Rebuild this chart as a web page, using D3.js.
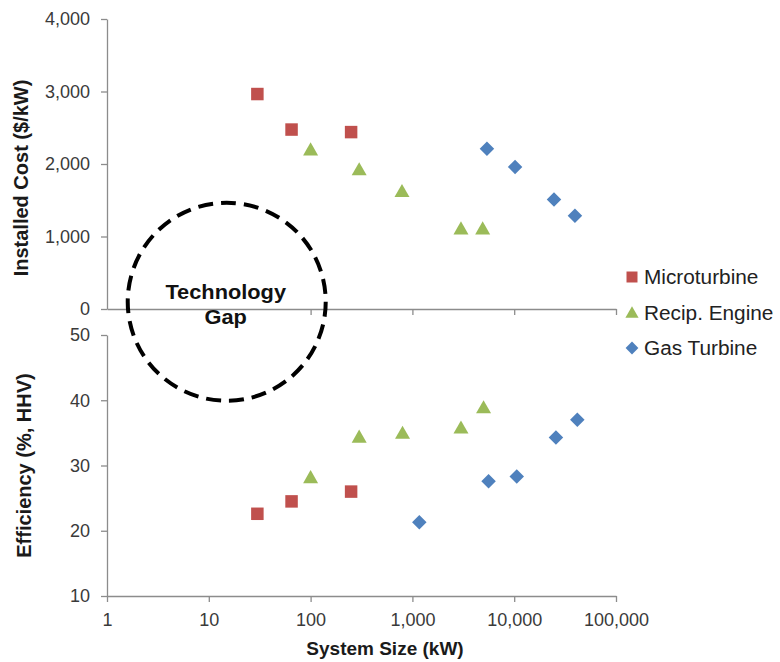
<!DOCTYPE html>
<html>
<head>
<meta charset="utf-8">
<script src="https://cdn.jsdelivr.net/npm/d3@7"></script>
<style>
  html, body { margin: 0; padding: 0; background: #fff; }
  svg { display: block; font-family: "Liberation Sans", Arial, sans-serif; }
</style>
</head>
<body>
<svg id="chart" width="780" height="662"></svg>
<script>
// ---- Data ----
const seriesNames = ["Microturbine", "Recip. Engine", "Gas Turbine"];

// Installed cost panel
const microCostSize = [30, 65, 250];
const microCost     = [2965, 2475, 2440];
const recipCostSize = [100, 300, 790, 3000, 4900];
const recipCost     = [2200, 1925, 1625, 1110, 1110];
const gasCostSize   = [5400, 10200, 24600, 39500];
const gasCost       = [2210, 1960, 1510, 1285];

// Efficiency panel
const microEffSize = [30, 65, 250];
const microEff     = [22.6, 24.5, 26.0];
const recipEffSize = [100, 300, 800, 3000, 5000];
const recipEff     = [28.2, 34.4, 35.0, 35.8, 38.9];
const gasEffSize   = [1170, 5600, 10600, 25700, 41700];
const gasEff       = [21.3, 27.6, 28.3, 34.3, 37.0];

// Axis ticks
const xTicks = [1, 10, 100, 1000, 10000, 100000];
const xTicksTop = [100, 1000, 10000, 100000];
const costTicks = [0, 1000, 2000, 3000, 4000];
const effTicks = [10, 20, 30, 40, 50];

// Technology gap annotation (centre in data units)
const gapCenterSize = 15;
const gapCenterCost = 100;

// ---- Setup ----
const colors = { "Microturbine": "#C0504D", "Recip. Engine": "#9BBB59", "Gas Turbine": "#4F81BD" };
const shapes = { "Microturbine": "square", "Recip. Engine": "triangle", "Gas Turbine": "diamond" };
const axisColor = "#8c8c8c";
const tickTextColor = "#3a3a3a";

const svg = d3.select("#chart");

const x = d3.scaleLog().domain([1, 100000]).range([107, 616]);
const yCost = d3.scaleLinear().domain([0, 4000]).range([309, 19]);
const yEff = d3.scaleLinear().domain([10, 50]).range([596, 335]);

const fmt = d3.format(",");

function styleAxis(g) {
  g.select(".domain").attr("stroke", axisColor).attr("stroke-width", 1.3);
  g.selectAll(".tick line").attr("stroke", axisColor).attr("stroke-width", 1.3);
  g.selectAll(".tick text").attr("fill", tickTextColor)
    .style("font-size", "18px").style("font-family", "'Liberation Sans', Arial, sans-serif");
}

// Cost y axis
svg.append("g").attr("transform", `translate(${x.range()[0]},0)`)
  .call(d3.axisLeft(yCost).tickValues(costTicks).tickFormat(fmt).tickSize(6).tickSizeOuter(0).tickPadding(11))
  .call(styleAxis);

// Cost x axis (at 0)
svg.append("g").attr("transform", `translate(0,${yCost(0)})`)
  .call(d3.axisBottom(x).tickValues(xTicksTop).tickFormat("").tickSize(6).tickSizeOuter(0))
  .call(styleAxis);

// Efficiency y axis
svg.append("g").attr("transform", `translate(${x.range()[0]},0)`)
  .call(d3.axisLeft(yEff).tickValues(effTicks).tickFormat(fmt).tickSize(6).tickSizeOuter(0).tickPadding(11))
  .call(styleAxis);

// Efficiency x axis
svg.append("g").attr("transform", `translate(0,${yEff(10)})`)
  .call(d3.axisBottom(x).tickValues(xTicks).tickFormat(fmt).tickSize(6).tickSizeOuter(0).tickPadding(11))
  .call(styleAxis);

// Axis titles
svg.append("text")
  .attr("transform", `translate(28,${(yCost(0) + yCost(4000)) / 2 + 14}) rotate(-90)`)
  .attr("text-anchor", "middle").attr("font-weight", "bold").attr("font-size", 20).attr("fill", "#1a1a1a")
  .text("Installed Cost ($/kW)");
svg.append("text")
  .attr("transform", `translate(31,${(yEff(10) + yEff(50)) / 2}) rotate(-90)`)
  .attr("text-anchor", "middle").attr("font-weight", "bold").attr("font-size", 20).attr("fill", "#1a1a1a")
  .text("Efficiency (%, HHV)");
svg.append("text")
  .attr("x", 385).attr("y", 655)
  .attr("text-anchor", "middle").attr("font-weight", "bold").attr("font-size", 19).attr("fill", "#1a1a1a")
  .text("System Size (kW)");

// Markers
function symbolPath(shape, s) {
  if (shape === "square") {
    const h = s / 2;
    return `M${-h},${-h}H${h}V${h}H${-h}Z`;
  }
  if (shape === "triangle") {
    const w = s * 1.2 / 2, h = s * 1.05;
    return `M0,${-h * 0.55}L${w},${h * 0.45}L${-w},${h * 0.45}Z`;
  }
  const d = s * 0.58;
  return `M0,${-d}L${d},0L0,${d}L${-d},0Z`;
}

function drawSeries(name, sizes, vals, yScale) {
  svg.append("g").selectAll("path")
    .data(sizes.map((s, i) => ({ s, v: vals[i] })))
    .join("path")
    .attr("transform", d => `translate(${x(d.s)},${yScale(d.v)})`)
    .attr("d", symbolPath(shapes[name], 12.5))
    .attr("fill", colors[name]);
}

drawSeries("Microturbine", microCostSize, microCost, yCost);
drawSeries("Recip. Engine", recipCostSize, recipCost, yCost);
drawSeries("Gas Turbine", gasCostSize, gasCost, yCost);
drawSeries("Microturbine", microEffSize, microEff, yEff);
drawSeries("Recip. Engine", recipEffSize, recipEff, yEff);
drawSeries("Gas Turbine", gasEffSize, gasEff, yEff);

// Technology gap circle
const cx = x(gapCenterSize), cy = yCost(gapCenterCost);
svg.append("circle")
  .attr("cx", cx).attr("cy", cy).attr("r", 99)
  .attr("fill", "none").attr("stroke", "#000").attr("stroke-width", 4)
  .attr("stroke-dasharray", "15,8");
svg.append("text")
  .attr("transform", `translate(${cx - 1},${cy - 3}) scale(1.09,1)`)
  .attr("text-anchor", "middle").attr("font-weight", "bold").attr("font-size", 20).attr("fill", "#111")
  .text("Technology");
svg.append("text")
  .attr("transform", `translate(${cx - 1},${cy + 22}) scale(1.09,1)`)
  .attr("text-anchor", "middle").attr("font-weight", "bold").attr("font-size", 20).attr("fill", "#111")
  .text("Gap");

// Legend
const legend = svg.append("g").attr("transform", "translate(632,277)");
seriesNames.forEach((name, i) => {
  const g = legend.append("g").attr("transform", `translate(0,${i * 35.5})`);
  g.append("path").attr("d", symbolPath(shapes[name], 11)).attr("fill", colors[name]);
  g.append("text").attr("transform", "translate(12,7) scale(1.04,1)")
    .attr("font-size", 20).attr("fill", "#222").text(name);
});
</script>
</body>
</html>
